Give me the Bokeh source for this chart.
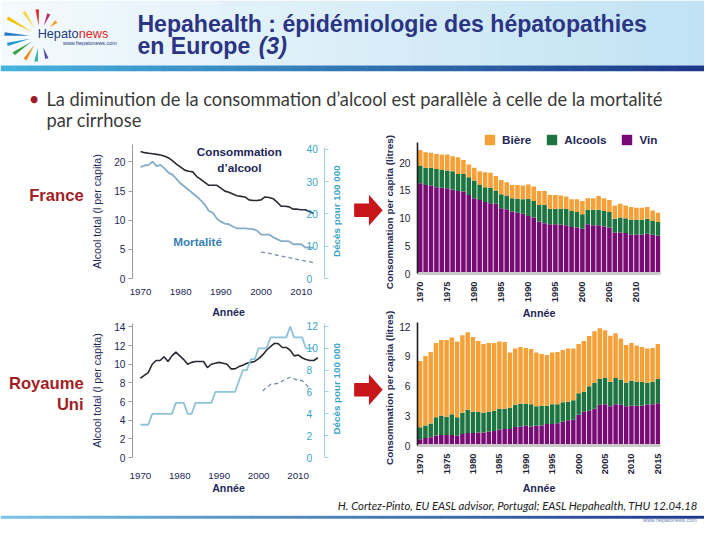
import math
from bokeh.plotting import figure
from bokeh.models import Range1d, LinearAxis, FixedTicker, Label, Legend, LegendItem
from bokeh.layouts import column, row
from bokeh.core.properties import value
from bokeh.embed import file_html
from bokeh.resources import INLINE

# ---------------- data ----------------
fr_years = list(range(1970, 2014))
fr_alcool = [21.8, 21.6, 21.5, 21.4, 21.3, 21.2, 21.0, 20.7, 20.2, 19.6,
             19.1, 18.6, 18.4, 18.3, 17.5, 17.0, 16.5, 16.0, 16.0, 16.0,
             15.5, 15.0, 14.8, 14.5, 14.2, 14.1, 14.0, 13.5, 13.4, 13.4,
             13.5, 14.0, 13.9, 13.7, 13.1, 12.4, 12.4, 12.3, 11.9, 11.9,
             11.8, 11.8, 11.5, 11.2]
fr_mortalite = [34.5, 35.0, 35.2, 36.2, 34.8, 35.2, 34.0, 32.7, 32.1, 30.8,
                29.4, 28.4, 27.4, 26.4, 25.4, 24.2, 22.9, 20.9, 20.4, 18.5,
                17.6, 17.0, 16.8, 16.1, 15.5, 15.5, 15.5, 15.4, 15.3, 14.8,
                13.6, 13.6, 13.6, 12.8, 12.2, 11.6, 11.6, 11.5, 10.6, 10.6,
                10.6, 9.6, 9.6, 9.5]
fr_dash_years = list(range(2000, 2014))
fr_dash = [8.2, 8.0, 7.8, 7.5, 7.2, 7.0, 6.7, 6.5, 6.2, 5.9, 5.7, 5.4, 5.2, 4.9]

uk_years = list(range(1970, 2016))
uk_alcool = [8.5, 8.8, 9.1, 10.0, 10.4, 10.4, 10.8, 10.3, 10.9, 11.3,
             10.9, 10.5, 10.0, 10.2, 10.3, 10.3, 10.3, 9.65, 10.0, 10.1,
             10.2, 10.1, 10.0, 9.5, 9.5, 9.75, 9.9, 10.1, 10.2, 10.3,
             10.6, 11.0, 11.5, 11.9, 12.25, 12.2, 11.8, 11.8, 11.5, 10.9,
             11.0, 10.7, 10.5, 10.4, 10.4, 10.7]
uk_mort_years = list(range(1970, 2015))
uk_mortalite = [3, 3, 3, 4, 4, 4, 4, 4, 4, 5,
                5, 5, 4, 4, 5, 5, 5, 5, 5, 6,
                6, 6, 6, 6, 6, 7, 8, 8, 9, 9,
                10, 10, 10, 11, 11, 11, 11, 11, 12, 11,
                11, 11, 10, 10, 10]
uk_dash_years = list(range(2001, 2014))
uk_dash = [6.1, 6.4, 6.7, 6.75, 6.8, 7.0, 7.2, 7.35, 7.2, 7.05, 7.05, 6.7, 6.3]

# stacked bars (cumulative tops as read): Vin, Vin+Alcools, total (+Bière)
frb_years = list(range(1970, 2015))
frb_vin = [16.3, 16.0, 15.9, 15.6, 15.5, 15.4, 15.2, 14.9, 14.8, 14.2,
           13.6, 13.3, 12.9, 12.7, 12.6, 11.8, 11.6, 11.2, 11.0, 10.8,
           10.4, 10.1, 9.4, 9.1, 8.9, 8.9, 8.8, 8.7, 8.4, 8.3,
           8.1, 8.9, 8.7, 8.7, 8.5, 8.3, 7.4, 7.4, 7.3, 7.0,
           7.0, 7.0, 7.2, 7.0, 6.8]
frb_vin_alcools = [19.5, 19.1, 19.1, 18.9, 18.7, 18.6, 18.5, 18.0, 18.0, 17.4,
                   16.8, 16.1, 15.6, 15.5, 15.0, 14.3, 14.1, 13.6, 13.5, 13.4,
                   13.5, 13.1, 12.4, 12.4, 11.7, 11.7, 11.7, 11.7, 11.3, 11.1,
                   10.7, 11.5, 11.5, 11.5, 11.3, 11.1, 9.9, 10.1, 10.0, 9.7,
                   9.7, 9.7, 9.9, 9.5, 9.3]
frb_total = [22.3, 21.9, 21.8, 21.6, 21.5, 21.5, 21.2, 21.0, 20.5, 19.7,
             19.1, 18.5, 18.3, 18.2, 17.6, 16.9, 16.5, 16.0, 16.0, 15.9,
             16.1, 15.7, 14.9, 14.9, 14.2, 14.2, 14.1, 13.9, 13.4, 13.4,
             13.1, 13.6, 13.6, 14.0, 13.6, 13.3, 12.3, 12.6, 12.3, 12.0,
             11.9, 11.9, 12.0, 11.4, 11.0]

ukb_years = list(range(1970, 2016))
ukb_vin = [0.62, 0.75, 0.84, 1.0, 1.05, 1.05, 1.05, 1.0, 1.15, 1.25,
           1.25, 1.3, 1.3, 1.4, 1.45, 1.6, 1.67, 1.67, 1.86, 1.92,
           2.0, 1.92, 2.0, 2.0, 2.17, 2.17, 2.23, 2.4, 2.55, 2.6,
           3.1, 3.4, 3.5, 3.7, 4.1, 4.15, 3.95, 4.15, 4.1, 3.95,
           4.0, 4.0, 4.0, 4.1, 4.15, 4.25]
ukb_vin_alcools = [1.83, 2.0, 2.2, 2.85, 3.0, 2.9, 3.15, 2.85, 3.3, 3.6,
                   3.4, 3.4, 3.3, 3.4, 3.5, 3.7, 3.7, 3.8, 4.1, 4.2,
                   4.2, 4.15, 3.95, 4.0, 4.0, 4.15, 4.15, 4.35, 4.4, 4.55,
                   5.25, 5.4, 5.95, 6.3, 6.7, 6.8, 6.4, 6.8, 6.65, 6.3,
                   6.5, 6.4, 6.4, 6.3, 6.4, 6.7]
ukb_total = [8.5, 9.0, 9.4, 10.3, 10.6, 10.6, 10.85, 10.45, 11.1, 11.4,
             10.9, 10.5, 10.2, 10.3, 10.3, 10.45, 10.4, 9.35, 9.75, 9.9,
             9.8, 9.7, 9.35, 9.2, 9.1, 9.35, 9.4, 9.6, 9.75, 9.75,
             10.2, 10.5, 11.0, 11.5, 11.8, 11.6, 11.05, 11.3, 10.75, 10.1,
             10.3, 10.05, 9.9, 9.75, 9.8, 10.2]

line_xticks = [1970, 1980, 1990, 2000, 2010]
fr_left_ticks = [0, 5, 10, 15, 20]
fr_right_ticks = [0, 10, 20, 30, 40]
uk_left_ticks = [0, 2, 4, 6, 8, 10, 12, 14]
uk_right_ticks = [0, 2, 4, 6, 8, 10, 12]
frb_xticks = [1970, 1975, 1980, 1985, 1990, 1995, 2000, 2005, 2010]
ukb_xticks = [1970, 1975, 1980, 1985, 1990, 1995, 2000, 2005, 2010, 2015]
frb_yticks = [0, 5, 10, 15, 20]
ukb_yticks = [0, 3, 6, 9, 12]
legend_labels = ["Bière", "Alcools", "Vin"]

# ---------------- styling ----------------
SANS = "Liberation Sans"
HUMAN = "Lato"
NAVY = "#1e2756"
TEAL = "#38a4c6"
BIERE = "#f6a138"
ALCOOLS = "#1c7440"
VIN = "#780b74"

SX = 704 / 720
SY = 524 / 540


def P(x):
    return int(round(x * SX))


def Q(y):
    return int(round(y * SY))


def fs(px):
    return "%.1fpx" % (px * 0.975)


def lerp(c1, c2, t):
    return "#%02x%02x%02x" % tuple(int(round(a + (b - a) * t)) for a, b in zip(c1, c2))


def canvas(w, h, xr, yr):
    p = figure(width=w, height=h, x_range=Range1d(*xr), y_range=Range1d(*yr),
               x_axis_type=None, y_axis_type=None, toolbar_location=None,
               output_backend="svg", min_border=0)
    p.outline_line_color = None
    return p


def txt(p, x, y, s, size, color, font=SANS, style="normal", align="left", angle=0.0):
    p.text(x=[x], y=[y], text=[s], text_font=value(font), text_font_size=value(size),
           text_font_style=style, text_color=color, text_align=align,
           text_baseline="middle", angle=angle)


# ---------------- header ----------------
HB = 137
H_TOP = Q(HB)
header = canvas(704, H_TOP, (0, 720), (HB, 0))
n = 48
for i in range(n):
    x0 = 720 * i / n
    header.quad(left=[x0], right=[x0 + 720 / n + 0.5], top=[0], bottom=[67],
                fill_color=lerp((244, 250, 253), (192, 226, 243), i / (n - 1)), line_color=None)
    header.quad(left=[x0], right=[x0 + 720 / n + 0.5], top=[67], bottom=[73],
                fill_color=lerp((70, 178, 222), (28, 56, 138), i / (n - 1)), line_color=None)

# logo rays
cx, cy = 40, 37
rays = [(-150, 9, 38, "#f5c200"), (-122, 10, 30, "#f7d84a"), (-95, 11, 28, "#e2302b"),
        (-68, 12, 25, "#c0307a"), (-176, 10, 36, "#2c78c8"), (166, 10, 34, "#1f9ad6"),
        (146, 10, 32, "#3aa34a"), (122, 10, 28, "#f08a1c"), (98, 12, 26, "#2fb0a0"),
        (72, 12, 24, "#5a4aa0"), (-42, 14, 23, "#f0a020")]
rxs, rys, rcs = [], [], []
for ang, r0, r1, col in rays:
    a = math.radians(ang)
    ux, uy = math.cos(a), math.sin(a)
    nx, ny = -uy, ux
    rxs.append([cx + r0 * ux, cx + r1 * ux + 1.8 * nx, cx + r1 * ux - 1.8 * nx])
    rys.append([cy + r0 * uy, cy + r1 * uy + 1.8 * ny, cy + r1 * uy - 1.8 * ny])
    rcs.append(col)
header.patches(xs=rxs, ys=rys, fill_color=rcs, line_color=None)
txt(header, 38, 34.5, "Hepato", fs(13), "#1d3b7c")
txt(header, 80, 34.5, "news", fs(13), "#e2231a")
txt(header, 64, 44, "www.hepatonews.com", fs(5.5), "#1d3b7c")

TITLE = "#2c3484"
txt(header, 140, 24, "Hepahealth : épidémiologie des hépatopathies", fs(23.7), TITLE, style="bold")
txt(header, 140, 47, "en Europe", fs(23.7), TITLE, style="bold")
txt(header, 264, 47, "(3)", fs(23.7), TITLE, style="bold italic")

txt(header, 29, 101, "•", fs(19), "#9e1b2c", font=HUMAN)
txt(header, 47, 101, "La diminution de la consommation d’alcool est parallèle à celle de la mortalité",
    fs(18.8), "#3a3a3a", font=HUMAN)
txt(header, 47, 123, "par cirrhose", fs(18.8), "#3a3a3a", font=HUMAN)

# ---------------- middle ----------------
M_BOT = Q(512)
MID_H = M_BOT - H_TOP
STRIP_W = P(90)
strip = canvas(STRIP_W, MID_H, (0, 90), (512, HB))
RED = "#a31d24"
txt(strip, 85, 201, "France", fs(17), RED, style="bold", align="right")
txt(strip, 85, 395, "Royaume", fs(17), RED, style="bold", align="right")
txt(strip, 85, 416, "Uni", fs(17), RED, style="bold", align="right")

SIDE_L, SIDE_R = 339, 405
SIDE_W = P(SIDE_R) - P(SIDE_L)
side = canvas(SIDE_W, MID_H, (SIDE_L, SIDE_R), (512, HB))
axs, ays = [], []
for c in (216, 401):
    axs.append([362, 377, 377, 391, 377, 377, 362])
    ays.append([c - 7, c - 7, c - 16, c, c + 16, c + 7, c + 7])
side.patches(xs=axs, ys=ays, fill_color="#c8151b", line_color=None)
for c in (218, 399):
    txt(side, 398, c, "Consommation per capita (litres)", fs(10.2), NAVY, style="bold",
        align="center", angle=math.pi / 2)
for c in (217, 400):
    txt(side, 344.5, c, "Décès pour 100 000", fs(10), TEAL, style="bold",
        align="center", angle=math.pi / 2)

LINE_W = P(SIDE_L) - P(90)
SPLIT_L = Q(330)


def line_figure(h, bl, br, bt, bb, xr, yl_end, yr_end, lticks, rticks, rbounds,
                xstand, xlab_stand):
    p = figure(width=LINE_W, height=h, x_range=Range1d(*xr), y_range=Range1d(0, yl_end),
               toolbar_location=None, output_backend="svg",
               min_border_left=bl, min_border_right=br, min_border_top=bt, min_border_bottom=bb)
    p.extra_y_ranges = {"right": Range1d(0, yr_end)}
    p.grid.visible = False
    p.outline_line_color = None
    xa = p.xaxis[0]
    xa.ticker = FixedTicker(ticks=line_xticks)
    xa.axis_line_color = None
    xa.major_tick_line_color = None
    xa.major_tick_out = 0
    xa.major_tick_in = 0
    xa.minor_tick_line_color = None
    xa.major_label_standoff = xstand
    xa.major_label_text_font = SANS
    xa.major_label_text_font_size = fs(10)
    xa.major_label_text_color = NAVY
    xa.axis_label = "Année"
    xa.axis_label_standoff = xlab_stand
    xa.axis_label_text_font = SANS
    xa.axis_label_text_font_size = fs(11)
    xa.axis_label_text_font_style = "bold"
    xa.axis_label_text_color = NAVY
    ya = p.yaxis[0]
    ya.ticker = FixedTicker(ticks=lticks)
    ya.axis_line_color = "#9a9a9a"
    ya.major_tick_line_color = "#9a9a9a"
    ya.major_tick_out = 4
    ya.major_tick_in = 0
    ya.minor_tick_line_color = None
    ya.major_label_standoff = 3
    ya.major_label_text_font = SANS
    ya.major_label_text_font_size = fs(10.5)
    ya.major_label_text_color = NAVY
    ya.axis_label = "Alcool total (l per capita)"
    ya.axis_label_standoff = 8
    ya.axis_label_text_font = SANS
    ya.axis_label_text_font_size = fs(11)
    ya.axis_label_text_font_style = "normal"
    ya.axis_label_text_color = NAVY
    ra = LinearAxis(y_range_name="right", ticker=FixedTicker(ticks=rticks))
    if rbounds is not None:
        ra.bounds = rbounds
    ra.axis_line_color = "#9fd0e0"
    ra.major_tick_line_color = "#9fd0e0"
    ra.major_tick_out = 4
    ra.major_tick_in = 0
    ra.minor_tick_line_color = None
    ra.major_label_standoff = -22
    ra.major_label_text_font = SANS
    ra.major_label_text_font_size = fs(10.5)
    ra.major_label_text_color = TEAL
    p.add_layout(ra, "right")
    return p


line_fr = line_figure(SPLIT_L - H_TOP, P(133) - P(90), P(SIDE_L) - P(331), Q(148) - H_TOP,
                      SPLIT_L - Q(286), (1968, 2015.8), 23.0, 41.5, fr_left_ticks, fr_right_ticks,
                      (0, 40.6), 10, 8)
line_fr.line(fr_years, fr_alcool, line_color="#2a2a34", line_width=1.6)
line_fr.line(fr_years, fr_mortalite, line_color="#86adc8", line_width=1.8, y_range_name="right")
line_fr.line(fr_dash_years, fr_dash, line_color="#7d8fa8", line_width=1.3, line_dash="4 3",
             y_range_name="right")
for ty, tt in ((21.8, "Consommation"), (19.0, "d’alcool")):
    line_fr.add_layout(Label(x=1994.6, y=ty, text=tt, text_align="center",
                             text_baseline="middle", text_font=SANS, text_font_size=fs(12),
                             text_font_style="bold", text_color=NAVY))
line_fr.add_layout(Label(x=1984.2, y=6.3, text="Mortalité", text_align="center",
                         text_baseline="middle", text_font=SANS, text_font_size=fs(12),
                         text_font_style="bold", text_color="#3b7fb5"))

line_uk = line_figure(M_BOT - SPLIT_L, P(133) - P(90), P(SIDE_L) - P(333), Q(333) - SPLIT_L,
                      M_BOT - Q(471), (1968, 2016.7), 14.37, 12.27, uk_left_ticks, uk_right_ticks,
                      None, 15, 0)
line_uk.line(uk_years, uk_alcool, line_color="#2a2a34", line_width=1.6)
line_uk.line(uk_mort_years, uk_mortalite, line_color="#8ec2d9", line_width=1.8, y_range_name="right")
line_uk.line(uk_dash_years, uk_dash, line_color="#7d8fa8", line_width=1.3, line_dash="4 3",
             y_range_name="right")

BAR_W = 704 - P(SIDE_R)
SPLIT_B = 322


def bar_figure(h, br, bt, bb, xr, y_end, ybounds, yticks, xticks, years, vin, va, tot,
               xstand, xlab_stand):
    p = figure(width=BAR_W, height=h, x_range=Range1d(*xr), y_range=Range1d(0, y_end),
               toolbar_location=None, output_backend="svg",
               min_border_left=P(425.7) - P(SIDE_R), min_border_right=br,
               min_border_top=bt, min_border_bottom=bb)
    p.grid.visible = False
    p.outline_line_color = None
    rv = p.vbar(x=years, width=0.84, bottom=0, top=vin, fill_color=VIN, line_color=None)
    ra = p.vbar(x=years, width=0.84, bottom=vin, top=va, fill_color=ALCOOLS, line_color=None)
    rb = p.vbar(x=years, width=0.84, bottom=va, top=tot, fill_color=BIERE, line_color=None)
    xa = p.xaxis[0]
    xa.ticker = FixedTicker(ticks=xticks)
    xa.axis_line_color = "#c9c9c9"
    xa.axis_line_width = 3
    xa.major_tick_line_color = None
    xa.major_tick_out = 0
    xa.major_tick_in = 0
    xa.minor_tick_line_color = None
    xa.major_label_orientation = math.pi / 2
    xa.major_label_standoff = xstand
    xa.major_label_text_font = SANS
    xa.major_label_text_font_size = fs(9.5)
    xa.major_label_text_font_style = "bold"
    xa.major_label_text_color = "#222233"
    xa.axis_label = "Année"
    xa.axis_label_standoff = xlab_stand
    xa.axis_label_text_font = SANS
    xa.axis_label_text_font_size = fs(11)
    xa.axis_label_text_font_style = "bold"
    xa.axis_label_text_color = NAVY
    ya = p.yaxis[0]
    ya.ticker = FixedTicker(ticks=yticks)
    if ybounds is not None:
        ya.bounds = ybounds
    ya.axis_line_color = "#1e1e1e"
    ya.axis_line_width = 1.6
    ya.major_tick_line_color = None
    ya.major_tick_out = 0
    ya.major_tick_in = 0
    ya.minor_tick_line_color = None
    ya.major_label_standoff = 7
    ya.major_label_text_font = SANS
    ya.major_label_text_font_size = fs(10.5)
    ya.major_label_text_color = "#222233"
    return p, rb, ra, rv


bar_fr, rb, ra, rv = bar_figure(SPLIT_B - H_TOP, 704 - P(681), 0, SPLIT_B - Q(284),
                                (1969.5, 2014.45), 25.3, (0, 23.6), frb_yticks, frb_xticks,
                                frb_years, frb_vin, frb_vin_alcools, frb_total, 8, 2)
legend = Legend(items=[LegendItem(label=legend_labels[0], renderers=[rb]),
                       LegendItem(label=legend_labels[1], renderers=[ra]),
                       LegendItem(label=legend_labels[2], renderers=[rv])],
                orientation="horizontal", location=(P(493) - P(425.7), 127),
                glyph_width=13, glyph_height=13, label_standoff=6, spacing=14,
                padding=0, margin=0, label_height=13, label_width=10,
                label_text_font=SANS, label_text_font_size=fs(12),
                label_text_font_style="bold", label_text_color=NAVY,
                border_line_color=None, background_fill_alpha=0)
bar_fr.add_layout(legend)

bar_uk, _, _, _ = bar_figure(M_BOT - SPLIT_B, 704 - P(675), max(0, Q(331) - SPLIT_B),
                             M_BOT - Q(464), (1969.5, 2015.5), 12.37, None, ukb_yticks,
                             ukb_xticks, ukb_years, ukb_vin, ukb_vin_alcools, ukb_total, 8, 5)

# ---------------- footer ----------------
footer = canvas(704, 524 - M_BOT, (0, 720), (540, 512))
for i in range(n):
    x0 = 720 * i / n
    footer.quad(left=[x0], right=[x0 + 720 / n + 0.5], top=[531], bottom=[534],
                fill_color=lerp((120, 196, 230), (28, 56, 138), i / (n - 1)), line_color=None)
txt(footer, 345, 520, "H. Cortez-Pinto, EU EASL advisor,  Portugal; EASL Hepahealth, THU 12.04.18",
    fs(11.6), "#222222", font=HUMAN, style="italic")
txt(footer, 712, 535.8, "www.hepatonews.com", fs(5.5), "#7088b0", align="right")

layout = column(header,
                row(strip, column(line_fr, line_uk), side, column(bar_fr, bar_uk)),
                footer)

open("out.html", "w").write(file_html(layout, INLINE))
